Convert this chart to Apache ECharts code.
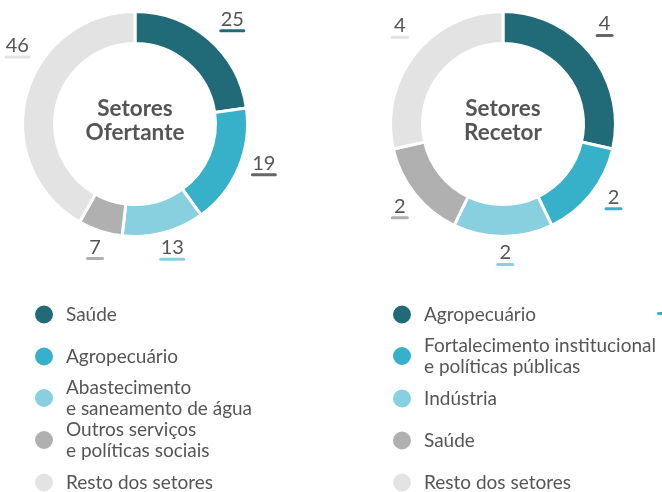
<!DOCTYPE html>
<html>
<head>
<meta charset="utf-8">
<script src="https://cdn.jsdelivr.net/npm/echarts@6/dist/echarts.min.js"></script>
<style>
html,body{margin:0;padding:0;background:#fff}
#chart{width:662px;height:492px}
</style>
</head>
<body>
<div id="chart"></div>
<script>
// data
var ofertanteNames = ['Saúde', 'Agropecuário', 'Abastecimento\ne saneamento de água', 'Outros serviços\ne políticas sociais', 'Resto dos setores'];
var ofertanteValues = [25, 19, 13, 7, 46];
var recetorNames = ['Agropecuário', 'Fortalecimento institucional\ne políticas públicas', 'Indústria', 'Saúde', 'Resto dos setores'];
var recetorValues = [4, 2, 2, 2, 4];

// styles
var sliceColors = ['#216b78', '#37b0c9', '#88cfdf', '#b0b0b0', '#e3e3e3'];
var ofertanteUnderline = ['#216b78', '#666666', '#88cfdf', '#b0b0b0', '#e3e3e3'];
var recetorUnderline = ['#666666', '#37b0c9', '#88cfdf', '#b0b0b0', '#e3e3e3'];
var ofertanteNudge = [2, -6, -2, 0, 19];   // degrees, label placement tweak
var recetorNudge = [-6, -5, -1, 0, 5];
var textColor = '#555555';
var font = 'Lato';

var leftCenter = [135, 124];
var rightCenter = [503, 124];

function makeRich(colors) {
  var rich = {
    v: {fontSize: 20, lineHeight: 20, color: textColor, fontFamily: font}
  };
  for (var i = 0; i < colors.length; i++) {
    rich['a' + i] = {width: 26, height: 3, lineHeight: 3, fontSize: 3, backgroundColor: colors[i], borderRadius: 1.5};
    rich['b' + i] = {width: 18, height: 3, lineHeight: 3, fontSize: 3, backgroundColor: colors[i], borderRadius: 1.5};
  }
  return rich;
}

function labelFormatter(p) {
  var key = (String(p.value).length > 1 ? 'a' : 'b') + p.dataIndex;
  return '{v|' + p.value + '}\n{' + key + '| }';
}

function makeLabelLayout(values, center, nudge) {
  var total = 0;
  for (var k = 0; k < values.length; k++) total += values[k];
  return function (p) {
    var i = p.dataIndex;
    var before = 0;
    for (var j = 0; j < i; j++) before += values[j];
    var ang = (before + values[i] / 2) / total * 360 + nudge[i];
    var rad = ang * Math.PI / 180;
    var dist = 137 + 8 * Math.cos(rad);
    return {
      x: center[0] + dist * Math.sin(rad),
      y: center[1] - dist * Math.cos(rad) - 10,
      align: 'center',
      verticalAlign: 'top'
    };
  };
}

function pieData(names, values) {
  return names.map(function (n, i) {
    return {name: n, value: values[i], itemStyle: {color: sliceColors[i]}};
  });
}

// one legend per row so every row sits on a fixed 42px pitch
var rowTop = 314, rowPitch = 42, lineH = 21;
function makeLegends(names, left) {
  return names.map(function (n, i) {
    var lines = n.split('\n').length;
    return {
      data: [{name: n, itemStyle: {color: sliceColors[i]}}],
      orient: 'vertical',
      left: left,
      top: rowTop + i * rowPitch - lines * lineH / 2,
      padding: 0,
      itemWidth: 20,
      itemHeight: 20,
      icon: 'circle',
      selectedMode: false,
      textStyle: {fontSize: 19, lineHeight: lineH, color: textColor, fontFamily: font, padding: [0, 0, 0, 7]}
    };
  });
}

function makePie(names, values, center, underline, nudge) {
  return {
    type: 'pie',
    center: center,
    radius: [80.5, 112.5],
    startAngle: 90,
    clockwise: true,
    avoidLabelOverlap: false,
    animation: false,
    emphasis: {disabled: true},
    itemStyle: {borderColor: '#fff', borderWidth: 3},
    label: {
      show: true,
      position: 'outside',
      formatter: labelFormatter,
      rich: makeRich(underline)
    },
    labelLine: {show: false},
    labelLayout: makeLabelLayout(values, center, nudge),
    data: pieData(names, values)
  };
}

var myChart = echarts.init(document.getElementById('chart'));
var option = {
  backgroundColor: '#fff',
  animation: false,
  legend: makeLegends(ofertanteNames, 33).concat(makeLegends(recetorNames, 391)),
  graphic: [
    {type: 'text', x: leftCenter[0], y: 121,
      style: {text: 'Setores\nOfertante', align: 'center', verticalAlign: 'middle',
        fontFamily: font, fontWeight: 'bold', fontSize: 22.5, lineHeight: 24, fill: textColor}},
    {type: 'text', x: rightCenter[0], y: 121,
      style: {text: 'Setores\nRecetor', align: 'center', verticalAlign: 'middle',
        fontFamily: font, fontWeight: 'bold', fontSize: 22.5, lineHeight: 24, fill: textColor}},
    {type: 'rect', shape: {x: 657, y: 312, width: 8, height: 3, r: 1.5}, style: {fill: '#37b0c9'}}
  ],
  series: [
    makePie(ofertanteNames, ofertanteValues, leftCenter, ofertanteUnderline, ofertanteNudge),
    makePie(recetorNames, recetorValues, rightCenter, recetorUnderline, recetorNudge)
  ]
};
myChart.setOption(option);
</script>
</body>
</html>
